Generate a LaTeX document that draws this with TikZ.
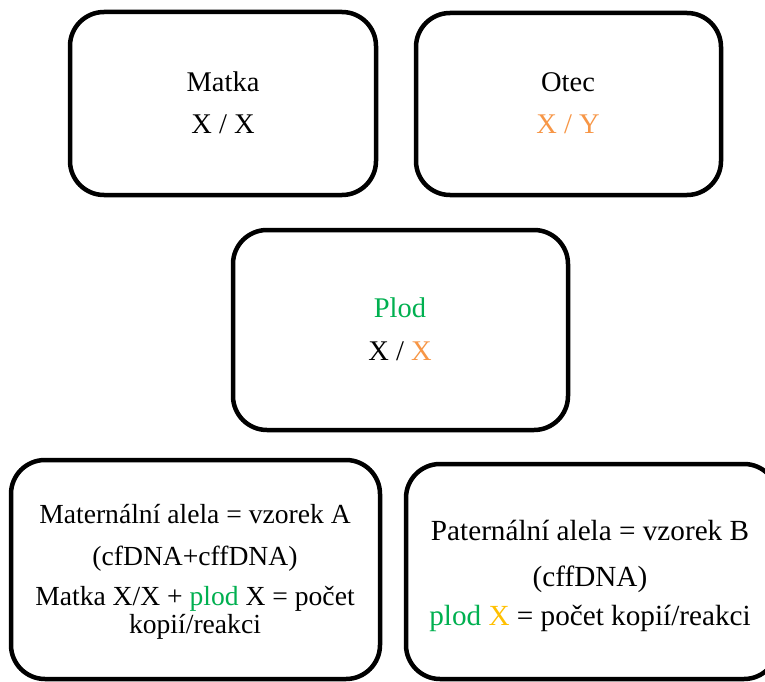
\documentclass[tikz,border=0pt]{standalone}
\usepackage{fontspec}
\setmainfont{Liberation Serif}
\definecolor{orng}{HTML}{F79646}
\definecolor{grn}{HTML}{00B050}
\definecolor{ylw}{HTML}{FFC000}
\begin{document}
\begin{tikzpicture}[x=1pt,y=-1pt,
  box/.style={draw=black,line width=4.5pt,rounded corners=34pt,inner sep=0pt,fill=white},
  txt/.style={anchor=base,inner sep=0pt,font=\fontsize{28.5}{32}\selectfont},
  ltxt/.style={anchor=base,inner sep=0pt,font=\fontsize{27.6}{31}\selectfont},
  rtxt/.style={anchor=base,inner sep=0pt,font=\fontsize{29.2}{33}\selectfont}]
\useasboundingbox (0,0) rectangle (765,682);
\clip (0,0) rectangle (765,682);
\node[box,minimum width=306pt,minimum height=183pt] (matka) at (223,103.5) {};
\node[box,minimum width=305pt,minimum height=182pt] (otec) at (568.5,104) {};
\node[box,minimum width=335pt,minimum height=200pt] (plod) at (400.5,330) {};
\node[box,minimum width=369pt,minimum height=219pt] (vzA) at (195.5,569.5) {};
\node[box,minimum width=372pt,minimum height=215pt] (vzB) at (592,571.5) {};
\node[txt] (t1a) at (223,92) {Matka};
\node[txt] (t1b) at (223,133) {X / X};
\node[txt] (t2a) at (568,92) {Otec};
\node[txt,text=orng] (t2b) at (568,133) {X / Y};
\node[txt,text=grn] (t3a) at (400,317) {Plod};
\node[txt] (t3b) at (400,360) {X / \textcolor{orng}{X}};
\node[ltxt] (t4a) at (195,523) {Maternální alela = vzorek A};
\node[ltxt] (t4b) at (195,565) {(cfDNA+cffDNA)};
\node[ltxt] (t4c) at (195,605) {Matka X/X + \textcolor{grn}{plod} X = počet};
\node[ltxt] (t4d) at (195,633) {kopií/reakci};
\node[rtxt] (t5a) at (590,540) {Paternální alela = vzorek B};
\node[rtxt] (t5b) at (590,586) {(cffDNA)};
\node[rtxt] (t5c) at (590,625) {\textcolor{grn}{plod} \textcolor{ylw}{X} = počet kopií/reakci};
\end{tikzpicture}
\end{document}
